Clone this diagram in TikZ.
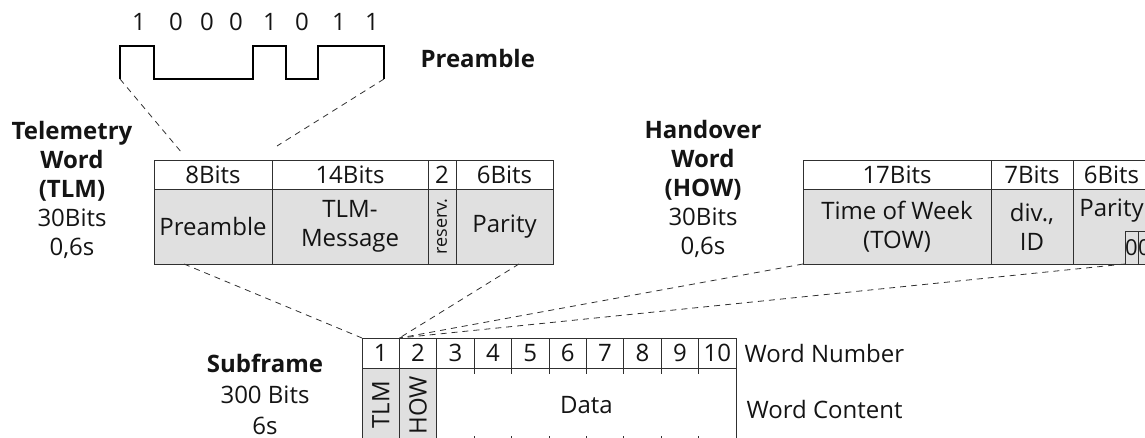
\documentclass[tikz,border=0pt]{standalone}
\usepackage{fontspec}
\setmainfont{Open Sans}
\usepackage{tikz}
\usetikzlibrary{positioning,calc}
\definecolor{fink}{HTML}{141414}
\definecolor{fline}{HTML}{303030}
\definecolor{fgry}{HTML}{E0E0E0}
\newcommand{\wordfont}{\fontsize{24}{29}\selectfont}
\tikzset{
  cell/.style  ={draw=fline, line width=0.9pt, inner sep=0pt, outer sep=0pt,
                 align=center, font=\wordfont, text=fink},
  hcell/.style ={cell, fill=white, minimum height=29pt},
  gcell/.style ={cell, fill=fgry, minimum height=75pt},
  scell/.style ={cell, fill=white, minimum width=37.4pt, minimum height=30pt},
  zcell/.style ={cell, fill=fgry, minimum width=13pt, minimum height=33pt,
                 font=\fontsize{22}{26}\selectfont},
  title/.style ={align=center, font=\wordfont, text=fink},
  note/.style  ={font=\wordfont, text=fink, anchor=west},
  bit/.style   ={font=\wordfont, text=fink},
  vlbl/.style  ={rotate=90, font=\wordfont, text=fink, inner sep=0pt},
  sig/.style   ={line width=2.6pt, draw=black, line join=miter},
  tick/.style  ={line width=0.9pt, draw=fline},
  zline/.style ={line width=0.8pt, draw=fline, dash pattern=on 6pt off 5pt},
}

\begin{document}
\begin{tikzpicture}[x=1pt, y=-1pt]
  \useasboundingbox (0,0) rectangle (1145,438);
  \clip (0,0) rectangle (1145,438);

  % preamble signal
  \node[bit] (b1) at (139,22) {1};
  \node[bit] (b2) at (176,22) {0};
  \node[bit] (b3) at (207,22) {0};
  \node[bit] (b4) at (236,22) {0};
  \node[bit] (b5) at (270,22) {1};
  \node[bit] (b6) at (302,22) {0};
  \node[bit] (b7) at (339,22) {1};
  \node[bit] (b8) at (372,22) {1};
  \coordinate (sigL) at (120,79);
  \coordinate (sigR) at (384,79);
  \draw[sig] (sigL) -- (120,46) -| (154,79) -| (253,46) -| (286,79) -| (318,46) -| (sigR);
  \node[title, font=\wordfont\bfseries, anchor=west] (preLbl) at (417,59) {Preamble};

  % telemetry word
  \node[title] (tlmLbl) at (72,190) {\textbf{Telemetry}\\\textbf{Word}\\\textbf{(TLM)}\\30Bits\\0,6s};
  \node[hcell, minimum width=118pt, anchor=north west] (t1) at (154,160) {8Bits};
  \node[hcell, minimum width=156pt, right=0pt of t1] (t2) {14Bits};
  \node[hcell, minimum width=28pt, right=0pt of t2] (t3) {2};
  \node[hcell, minimum width=97pt, right=0pt of t3] (t4) {6Bits};
  \node[gcell, minimum width=118pt, below=0pt of t1] (tPre) {Preamble};
  \node[gcell, minimum width=156pt, below=0pt of t2] (tMsg) {TLM-\\Message};
  \node[gcell, minimum width=28pt, below=0pt of t3] (tRes) {};
  \node[gcell, minimum width=97pt, below=0pt of t4] (tPar) {Parity};
  \node[vlbl, font=\fontsize{18}{20}\selectfont] (tResLbl) at (tRes) {reserv.};
  \coordinate (pA) at (182,153);
  \coordinate (pB) at (277,146);
  \draw[zline] (sigL) -- (pA);
  \draw[zline] (sigR) -- (pB);

  % handover word
  \node[title] (howLbl) at (703,189) {\textbf{Handover}\\\textbf{Word}\\\textbf{(HOW)}\\30Bits\\0,6s};
  \node[hcell, minimum width=188pt, anchor=north west] (h1) at (803,160) {17Bits};
  \node[hcell, minimum width=82pt, right=0pt of h1] (h2) {7Bits};
  \node[hcell, minimum width=77pt, right=0pt of h2] (h3) {6Bits};
  \node[gcell, minimum width=188pt, below=0pt of h1] (hTow) {Time of Week\\(TOW)};
  \node[gcell, minimum width=82pt, below=0pt of h2] (hId) {div.,\\ID};
  \node[gcell, minimum width=77pt, below=0pt of h3] (hPar) {Parity\\\strut};
  \node[zcell, anchor=south west] (z1) at ($(hPar.south west)+(52,0)$) {0};
  \node[zcell, right=0pt of z1] (z2) {0};

  % subframe
  \node[title, font=\fontsize{24}{31}\selectfont] (subLbl) at (265,394) {\textbf{Subframe}\\300 Bits\\6s};
  \node[scell, anchor=north west] (w1) at (362,338) {1};
  \node[scell, right=0pt of w1] (w2) {2};
  \node[scell, right=0pt of w2] (w3) {3};
  \node[scell, right=0pt of w3] (w4) {4};
  \node[scell, right=0pt of w4] (w5) {5};
  \node[scell, right=0pt of w5] (w6) {6};
  \node[scell, right=0pt of w6] (w7) {7};
  \node[scell, right=0pt of w7] (w8) {8};
  \node[scell, right=0pt of w8] (w9) {9};
  \node[scell, right=0pt of w9] (w10) {10};
  \node[gcell, minimum width=37.4pt, minimum height=74pt, below=0pt of w1] (sTlm) {};
  \node[gcell, minimum width=37.4pt, minimum height=74pt, below=0pt of w2] (sHow) {};
  \node[cell, fill=white, minimum width=299.2pt, minimum height=74pt, anchor=north west] (sData) at (w3.south west) {Data};
  \node[vlbl] (sTlmLbl) at (sTlm) {TLM};
  \node[vlbl] (sHowLbl) at (sHow) {HOW};
  \draw[tick] (w3.south east) -- ++(0,6) (w4.south east) -- ++(0,6) (w5.south east) -- ++(0,6)
              (w6.south east) -- ++(0,6) (w7.south east) -- ++(0,6) (w8.south east) -- ++(0,6)
              (w9.south east) -- ++(0,6);
  \draw[tick] (w3.east |- sData.south) -- ++(0,-6) (w4.east |- sData.south) -- ++(0,-6)
              (w5.east |- sData.south) -- ++(0,-6) (w6.east |- sData.south) -- ++(0,-6)
              (w7.east |- sData.south) -- ++(0,-6) (w8.east |- sData.south) -- ++(0,-6)
              (w9.east |- sData.south) -- ++(0,-6);
  \node[note, right=5pt of w10] (wNum) {Word Number};
  \node[note] (wCon) at (743,409) {Word Content};

  % zoom lines
  \coordinate (tL) at ($(tPre.south west)+(30,0)$);
  \coordinate (tR) at ($(tPar.south west)+(63,0)$);
  \draw[zline] (tL) -- (w1.north west);
  \draw[zline] (tR) -- (w1.north east);
  \draw[zline] (hTow.south west) -- (w1.north east);
  \draw[zline] (z1.south west) -- (w1.north east);
\end{tikzpicture}
\end{document}
